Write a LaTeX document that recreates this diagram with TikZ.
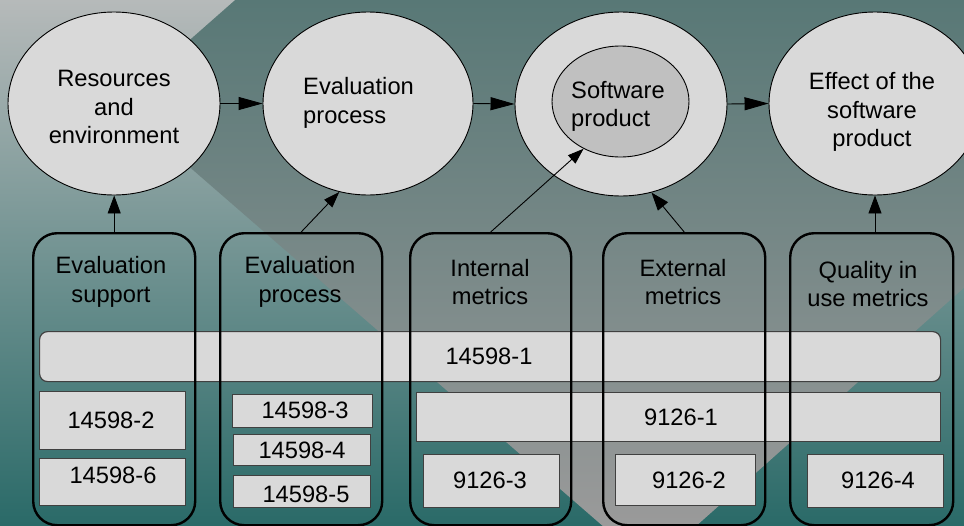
\documentclass[tikz,border=0pt]{standalone}
\usepackage{fontspec}
\setmainfont{Liberation Sans}
\usetikzlibrary{arrows.meta,shapes.geometric}
\definecolor{bgtop}{HTML}{B6BABA}
\definecolor{bgbot}{HTML}{2A6A68}
\definecolor{dtop}{HTML}{587876}
\definecolor{dbot}{HTML}{9A9A9A}
\definecolor{ovalfill}{HTML}{D9D9D9}
\definecolor{innerfill}{HTML}{C0C0C0}
\definecolor{boxline}{HTML}{404040}
\begin{document}
\begin{tikzpicture}[x=1pt,y=-1pt,
  lbl/.style={font=\fontsize{23.7}{28.5}\selectfont, text=black, inner sep=0pt},
  oval/.style={ellipse, draw=black, line width=0.9pt, fill=ovalfill, inner sep=0pt},
  colbox/.style={draw=black, line width=2.4pt, rounded corners=24pt, inner sep=0pt, anchor=north west},
  numbox/.style={draw=boxline, line width=1.2pt, fill=ovalfill, inner sep=0pt, anchor=north west},
  arr/.style={-{Triangle[length=18pt,width=13pt]}, line width=0.9pt},
  harr/.style={-{Triangle[length=24pt,width=13pt]}, line width=0.9pt},
  darr/.style={-{Triangle[length=16pt,width=11pt]}, line width=0.9pt}
]
\useasboundingbox (0,0) rectangle (964,525);
\clip (0,0) rectangle (964,525);
% background
\shade[top color=bgtop, bottom color=bgbot] (0,0) rectangle (964,525);
\begin{scope}
  \clip (117,104) -- (717,-424) -- (1300,-424) -- (1300,-11) -- (650,567) -- cycle;
  \shade[top color=dtop, bottom color=dbot] (0,0) rectangle (964,525);
\end{scope}
% ellipses
\node[oval, minimum width=212pt, minimum height=183pt] (e1) at (114,103.5) {};
\node[oval, minimum width=210pt, minimum height=183pt] (e2) at (368,103.5) {};
\node[oval, minimum width=212pt, minimum height=184pt] (e3) at (621,104) {};
\node[oval, fill=innerfill, minimum width=137pt, minimum height=111pt] (s) at (620.5,101.5) {};
\node[oval, minimum width=212pt, minimum height=183pt] (e4) at (875,103.5) {};
% ellipse texts
\node[lbl, align=center] (t1) at (114,107) {Resources\\and\\environment};
\node[lbl, align=left, anchor=west] (t2) at (303,103) {Evaluation\\process};
\node[lbl, align=left, anchor=west] (t3) at (571,106.5) {Software\\product};
\node[lbl, align=center] (t4) at (872,112) {Effect of the\\software\\product};
% bars and boxes
\node[numbox, rounded corners=8pt, minimum width=901pt, minimum height=50pt] (b1) at (39,331) {};
\node[numbox, minimum width=524pt, minimum height=49pt] (b2) at (416,392) {};
\node[numbox, minimum width=146pt, minimum height=58pt] (n2) at (39,391) {};
\node[numbox, minimum width=146pt, minimum height=47pt] (n6) at (39,458) {};
\node[numbox, minimum width=140pt, minimum height=33pt] (n3) at (232,394) {};
\node[numbox, minimum width=137pt, minimum height=31pt] (n4) at (233,434) {};
\node[numbox, minimum width=137pt, minimum height=32pt] (n5) at (233,475) {};
\node[numbox, minimum width=136pt, minimum height=53pt] (m3) at (423,454) {};
\node[numbox, minimum width=140pt, minimum height=51pt] (m2) at (615,454) {};
\node[numbox, minimum width=136pt, minimum height=53pt] (m4) at (807,454) {};
% number texts
\node[lbl] (tb1) at (489,356) {14598-1};
\node[lbl] (tb2) at (681,417) {9126-1};
\node[lbl] (tn2) at (111,420) {14598-2};
\node[lbl] (tn6) at (113,475) {14598-6};
\node[lbl] (tn3) at (305,410) {14598-3};
\node[lbl] (tn4) at (302,450) {14598-4};
\node[lbl] (tn5) at (306,494) {14598-5};
\node[lbl] (tm3) at (490,480) {9126-3};
\node[lbl] (tm2) at (689,480) {9126-2};
\node[lbl] (tm4) at (878,480) {9126-4};
% columns
\node[colbox, minimum width=162pt, minimum height=292pt] (c1) at (32,232) {};
\node[colbox, minimum width=162pt, minimum height=292pt] (c2) at (219,232) {};
\node[colbox, minimum width=161pt, minimum height=292pt] (c3) at (409,232) {};
\node[colbox, minimum width=162pt, minimum height=292pt] (c4) at (602,232) {};
\node[colbox, minimum width=163pt, minimum height=292pt] (c5) at (789,232) {};
% column texts
\node[lbl, align=center] (ct1) at (111,282) {Evaluation\\support};
\node[lbl, align=center] (ct2) at (300,282) {Evaluation\\process};
\node[lbl, align=center] (ct3) at (490,282) {Internal\\metrics};
\node[lbl, align=center] (ct4) at (683,282) {External\\metrics};
\node[lbl, align=center] (ct5) at (868,284) {Quality in\\use metrics};
% connectors
\draw[harr] (e1.east) -- (e2.west);
\draw[harr] (e2.east) -- (e3.west);
\draw[harr] (e3.east) -- (e4.west);
\draw[arr] (c1.north) -- (c1.north |- e1.south);
\draw[darr] (c2.north) -- (e2.252);
\draw[darr] (c3.north) -- (s.232);
\draw[arr] (c4.north) -- (e3.289);
\draw[arr] (e4.south |- c5.north) -- (e4.south);
\end{tikzpicture}
\end{document}
